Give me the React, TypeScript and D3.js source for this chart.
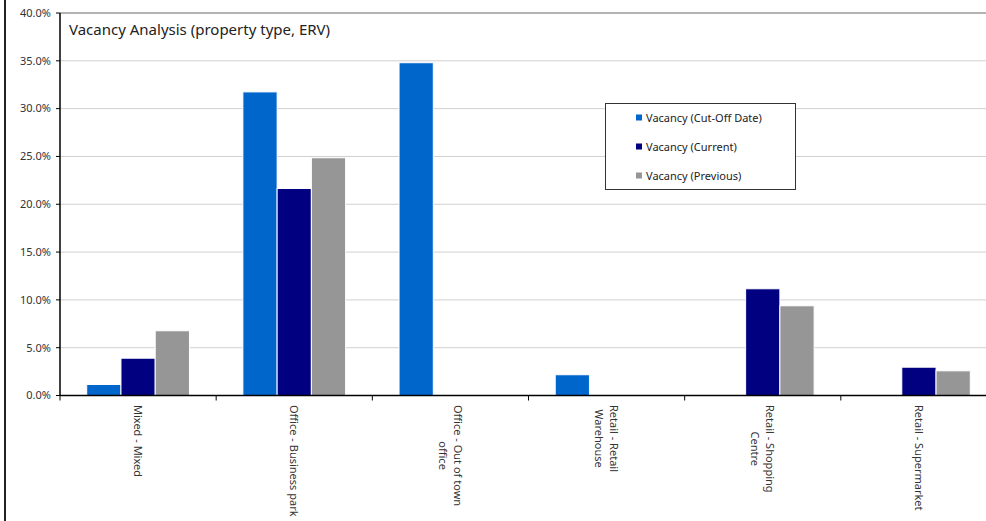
import React from "react";
import * as d3 from "d3";

const categories = [
  ["Mixed - Mixed"],
  ["Office - Business park"],
  ["Office - Out of town", "office"],
  ["Retail - Retail", "Warehouse"],
  ["Retail - Shopping", "Centre"],
  ["Retail - Supermarket"],
];
const seriesNames = ["Vacancy (Cut-Off Date)", "Vacancy (Current)", "Vacancy (Previous)"];
const seriesColors = ["#0066CC", "#000080", "#969696"];
const cutOff = [1.15, 31.75, 34.8, 2.17, 0, 0];
const current = [3.9, 21.65, 0, 0, 11.16, 2.96];
const previous = [6.77, 24.86, 0, 0, 9.38, 2.58];
const yTicks = [0, 5, 10, 15, 20, 25, 30, 35, 40];

const W = 986;
const H = 521;
const FONT = "'Noto Sans', 'DejaVu Sans', sans-serif";

function measure(text: string, size: number): number {
  try {
    const c = document.createElement("canvas");
    const ctx = c.getContext("2d");
    if (ctx) {
      ctx.font = `${size}px 'Noto Sans', 'DejaVu Sans', sans-serif`;
      return ctx.measureText(text).width;
    }
  } catch (e) {}
  return text.length * size * 0.52;
}

export default function App() {
  const left = 60;
  const top = 13;
  const bottom = 395.5;
  const right = 997;
  const keys = categories.map((c) => c.join(" "));
  const x0 = d3.scaleBand<string>().domain(keys).range([left, right]).paddingInner(0).paddingOuter(0);
  const x1 = d3
    .scaleBand<string>()
    .domain(seriesNames)
    .range([0, x0.bandwidth()])
    .paddingInner(0)
    .paddingOuter(0.78);
  const y = d3.scaleLinear().domain([0, 40]).range([bottom, top]);
  const data = [cutOff, current, previous];

  return (
    <svg
      width={W}
      height={H}
      style={{ position: "absolute", left: 0, top: 0, background: "#fff" }}
      fontFamily={FONT}
    >
      <rect x={0} y={0} width={W} height={H} fill="#fff" />
      <line x1={5} x2={5} y1={0} y2={H} stroke="#222" strokeWidth={2} />
      {yTicks.map((t) => (
        <line
          key={"g" + t}
          x1={left}
          x2={W}
          y1={y(t)}
          y2={y(t)}
          stroke={t === 40 ? "#9a9a9a" : "#d0d0d0"}
          strokeWidth={t === 40 ? 1.5 : 1}
        />
      ))}
      {data.map((vals, si) =>
        vals.map((v, ci) =>
          v > 0 ? (
            <rect
              key={si + "-" + ci}
              x={(x0(keys[ci]) as number) + (x1(seriesNames[si]) as number)}
              y={y(v)}
              width={x1.bandwidth()}
              height={y(0) - y(v)}
              fill={seriesColors[si]}
              stroke="#fff"
              strokeWidth={1}
            />
          ) : null
        )
      )}
      <line x1={left} x2={left} y1={top} y2={bottom} stroke="#000" strokeWidth={1.5} />
      {yTicks.map((t) => (
        <g key={"t" + t}>
          <line x1={left - 4} x2={left} y1={y(t)} y2={y(t)} stroke="#000" strokeWidth={1} />
          <text x={51} y={y(t)} dy="0.35em" textAnchor="end" fontSize={11} fill="#333">
            {t.toFixed(1) + "%"}
          </text>
        </g>
      ))}
      <line x1={left} x2={W} y1={bottom} y2={bottom} stroke="#000" strokeWidth={1.5} />
      {keys.map((k, i) => (
        <line
          key={"xt" + i}
          x1={x0(k) as number}
          x2={x0(k) as number}
          y1={bottom}
          y2={bottom + 5}
          stroke="#000"
          strokeWidth={1}
        />
      ))}
      {categories.map((lines, i) => {
        const cx = (x0(keys[i]) as number) + x0.bandwidth() / 2;
        const n = lines.length;
        const maxW = Math.max(...lines.map((l) => measure(l, 11)));
        const cy = 405 + maxW / 2;
        return (
          <g key={"xl" + i} transform={`translate(${cx},${cy}) rotate(90)`}>
            {lines.map((ln, li) => (
              <text
                key={li}
                x={0}
                y={(li - (n - 1) / 2) * 15}
                dy="0.35em"
                textAnchor="middle"
                fontSize={11}
                fill="#333"
              >
                {ln}
              </text>
            ))}
          </g>
        );
      })}
      <text x={69} y={35} fontSize={15} fill="#222">
        Vacancy Analysis (property type, ERV)
      </text>
      <rect x={605.5} y={103.5} width={190} height={86} fill="#fff" stroke="#333" strokeWidth={1} />
      {seriesNames.map((s, i) => (
        <g key={"lg" + i}>
          <rect x={636} y={114.5 + i * 29} width={6} height={6} fill={seriesColors[i]} />
          <text x={646} y={118 + i * 29} dy="0.35em" fontSize={11} fill="#222">
            {s}
          </text>
        </g>
      ))}
    </svg>
  );
}
